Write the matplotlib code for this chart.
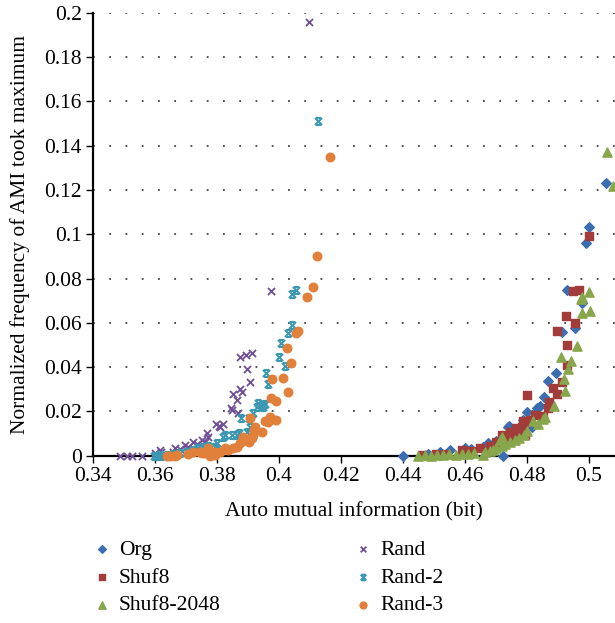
import numpy as np
import matplotlib
matplotlib.use("Agg")
import matplotlib.pyplot as plt
from matplotlib.path import Path

plt.rcParams['font.family'] = ['Liberation Serif', 'DejaVu Serif']

# AMI value at which the frequency peaks, per sequence type
org_x = [0.4401, 0.4480, 0.4520, 0.4552, 0.4600, 0.4620, 0.4659, 0.4668, 0.4675, 0.4700,
         0.4724, 0.4732, 0.4740, 0.4743, 0.4760, 0.4780, 0.4788, 0.4801, 0.4815, 0.4833,
         0.4843, 0.4856, 0.4869, 0.4893, 0.4914, 0.4930, 0.4955, 0.4979, 0.4989, 0.5000, 0.5055]
org_y = [0.0000, 0.0008, 0.0015, 0.0026, 0.0033, 0.0030, 0.0041, 0.0038, 0.0056, 0.0065,
         0.0000, 0.0074, 0.0131, 0.0135, 0.0100, 0.0120, 0.0161, 0.0199, 0.0128, 0.0214,
         0.0225, 0.0264, 0.0337, 0.0375, 0.0560, 0.0748, 0.0575, 0.0688, 0.0962, 0.1034, 0.1231]

shuf8_x = [0.4460, 0.4508, 0.4540, 0.4589, 0.4620, 0.4648, 0.4680, 0.4700, 0.4718, 0.4725,
           0.4735, 0.4745, 0.4756, 0.4760, 0.4766, 0.4777, 0.4783, 0.4786, 0.4794, 0.4799,
           0.4801, 0.4810, 0.4826, 0.4853, 0.4869, 0.4872, 0.4883, 0.4896, 0.4912, 0.4928,
           0.4928, 0.4896, 0.4926, 0.4955, 0.4949, 0.4968, 0.5000]
shuf8_y = [0.0003, 0.0006, 0.0010, 0.0026, 0.0020, 0.0033, 0.0045, 0.0060, 0.0093, 0.0060,
           0.0075, 0.0108, 0.0108, 0.0085, 0.0124, 0.0101, 0.0131, 0.0157, 0.0093, 0.0153,
           0.0273, 0.0161, 0.0184, 0.0179, 0.0214, 0.0244, 0.0304, 0.0277, 0.0334, 0.0408,
           0.0500, 0.0564, 0.0632, 0.0600, 0.0745, 0.0748, 0.0992]

shuf2048_x = [0.4450, 0.4470, 0.4490, 0.4510, 0.4530, 0.4550, 0.4570, 0.4590, 0.4610, 0.4630,
              0.4659, 0.4665, 0.4680, 0.4690, 0.4700, 0.4713, 0.4718, 0.4720, 0.4730, 0.4745,
              0.4760, 0.4775, 0.4790, 0.4800, 0.4820, 0.4836, 0.4853, 0.4858, 0.4888, 0.4924,
              0.4920, 0.4933, 0.4909, 0.4941, 0.4960, 0.4976, 0.5003, 0.4974, 0.4976, 0.5001,
              0.5059, 0.5078]
shuf2048_y = [0.0000, 0.0003, 0.0000, 0.0003, 0.0005, 0.0008, 0.0005, 0.0010, 0.0008, 0.0012,
              0.0003, 0.0015, 0.0020, 0.0028, 0.0035, 0.0071, 0.0086, 0.0045, 0.0052, 0.0060,
              0.0070, 0.0078, 0.0095, 0.0110, 0.0158, 0.0142, 0.0164, 0.0173, 0.0226, 0.0293,
              0.0348, 0.0390, 0.0444, 0.0429, 0.0495, 0.0643, 0.0655, 0.0707, 0.0715, 0.0738,
              0.1370, 0.1219]

rand_x = [0.3487, 0.3509, 0.3525, 0.3557, 0.3600, 0.3616, 0.3621, 0.3659, 0.3665, 0.3680,
          0.3697, 0.3702, 0.3707, 0.3723, 0.3734, 0.3751, 0.3761, 0.3767, 0.3772, 0.3797,
          0.3807, 0.3810, 0.3818, 0.3844, 0.3847, 0.3851, 0.3866, 0.3867, 0.3874, 0.3874,
          0.3880, 0.3894, 0.3898, 0.3906, 0.3914, 0.3973, 0.4097]
rand_y = [0.0000, 0.0000, 0.0000, 0.0000, 0.0011, 0.0026, 0.0018, 0.0018, 0.0033, 0.0030,
          0.0048, 0.0026, 0.0041, 0.0060, 0.0053, 0.0071, 0.0063, 0.0101, 0.0086, 0.0143,
          0.0135, 0.0131, 0.0143, 0.0217, 0.0206, 0.0280, 0.0251, 0.0191, 0.0301, 0.0444,
          0.0289, 0.0455, 0.0390, 0.0334, 0.0462, 0.0745, 0.1960]

rand2_x = [0.3597, 0.3605, 0.3616, 0.3621, 0.3638, 0.3659, 0.3680, 0.3702, 0.3724, 0.3740,
           0.3756, 0.3772, 0.3794, 0.3799, 0.3820, 0.3826, 0.3847, 0.3864, 0.3872, 0.3877,
           0.3896, 0.3904, 0.3906, 0.3917, 0.3928, 0.3933, 0.3944, 0.3950, 0.3955, 0.3958,
           0.3966, 0.4001, 0.4005, 0.4019, 0.4030, 0.4041, 0.4041, 0.4055, 0.4127]
rand2_y = [0.0000, 0.0000, 0.0003, 0.0000, 0.0003, 0.0008, 0.0011, 0.0018, 0.0026, 0.0033,
           0.0041, 0.0045, 0.0041, 0.0056, 0.0086, 0.0093, 0.0093, 0.0093, 0.0101, 0.0169,
           0.0108, 0.0172, 0.0131, 0.0191, 0.0221, 0.0237, 0.0229, 0.0219, 0.0233, 0.0372,
           0.0322, 0.0447, 0.0510, 0.0406, 0.0553, 0.0590, 0.0730, 0.0748, 0.1512]

rand3_x = [0.3638, 0.3648, 0.3665, 0.3670, 0.3707, 0.3723, 0.3745, 0.3751, 0.3761, 0.3772,
           0.3777, 0.3777, 0.3794, 0.3794, 0.3810, 0.3826, 0.3837, 0.3853, 0.3864, 0.3874,
           0.3885, 0.3890, 0.3904, 0.3906, 0.3912, 0.3917, 0.3919, 0.3923, 0.3946, 0.3955,
           0.3966, 0.3971, 0.3974, 0.3976, 0.3989, 0.3990, 0.4014, 0.4025, 0.4028, 0.4038,
           0.4056, 0.4062, 0.4091, 0.4111, 0.4122, 0.4165]
rand3_y = [0.0000, 0.0000, 0.0000, 0.0003, 0.0008, 0.0018, 0.0018, 0.0011, 0.0011, 0.0033,
           0.0018, 0.0000, 0.0018, 0.0003, 0.0018, 0.0033, 0.0026, 0.0033, 0.0041, 0.0056,
           0.0086, 0.0071, 0.0063, 0.0169, 0.0079, 0.0093, 0.0116, 0.0131, 0.0106, 0.0158,
           0.0154, 0.0176, 0.0259, 0.0345, 0.0161, 0.0247, 0.0349, 0.0488, 0.0289, 0.0420,
           0.0555, 0.0564, 0.0715, 0.0763, 0.0903, 0.1349]

x_ticks = [0.34, 0.36, 0.38, 0.40, 0.42, 0.44, 0.46, 0.48, 0.50]
x_labels = ["0.34", "0.36", "0.38", "0.4", "0.42", "0.44", "0.46", "0.48", "0.5"]
y_ticks = [0.0, 0.02, 0.04, 0.06, 0.08, 0.10, 0.12, 0.14, 0.16, 0.18, 0.20]
y_labels = ["0", "0.02", "0.04", "0.06", "0.08", "0.1", "0.12", "0.14", "0.16", "0.18", "0.2"]

# hourglass-like star marker: an X with bars on top and bottom
star = Path([(-1, -1), (1, 1), (-1, 1), (1, -1), (-0.7, 1), (0.7, 1), (-0.7, -1), (0.7, -1)],
            [Path.MOVETO, Path.LINETO, Path.MOVETO, Path.LINETO,
             Path.MOVETO, Path.LINETO, Path.MOVETO, Path.LINETO])

series = [
    ("Org", org_x, org_y, dict(marker="D", color="#3b6eb0", s=24)),
    ("Shuf8", shuf8_x, shuf8_y, dict(marker="s", color="#a23c3b", s=38)),
    ("Shuf8-2048", shuf2048_x, shuf2048_y, dict(marker="^", color="#88a64b", s=44)),
    ("Rand", rand_x, rand_y, dict(marker="x", color="#6e4f98", s=26, linewidths=1.3)),
    ("Rand-2", rand2_x, rand2_y, dict(marker=star, color="#3c98b2", s=26, linewidths=1.5)),
    ("Rand-3", rand3_x, rand3_y, dict(marker="o", color="#e0803a", s=38)),
]

fs = 15.5

fig = plt.figure(figsize=(6.15, 6.23), dpi=100)
ax = fig.add_axes([0.1512, 0.2685, 0.8488, 0.7111])

handles = []
for name, xs, ys, style in series:
    h = ax.scatter(xs, ys, label=name, clip_on=False, zorder=3, **style)
    handles.append(h)

ax.set_xlim(0.34, 0.5084)
ax.set_ylim(0, 0.2)
ax.set_xticks(x_ticks)
ax.set_xticklabels(x_labels)
ax.set_yticks(y_ticks)
ax.set_yticklabels(y_labels)
ax.tick_params(axis="both", direction="out", length=5, width=1, labelsize=fs, colors="black")
ax.tick_params(axis="x", pad=3)
ax.tick_params(axis="y", pad=3)

for side in ("top", "right"):
    ax.spines[side].set_visible(False)
for side in ("left", "bottom"):
    ax.spines[side].set_linewidth(1.6)

ax.yaxis.grid(True, linestyle=(0, (1, 8)), color="#444444", linewidth=1.3)
ax.set_axisbelow(True)

ax.set_xlabel("Auto mutual information (bit)", fontsize=fs, labelpad=12)
ax.set_ylabel("Normalized frequency of AMI took maximum", fontsize=fs, labelpad=10)

leg = fig.legend(handles=handles, labels=[s[0] for s in series],
                 ncol=2, loc="upper left", bbox_to_anchor=(0.1236, 0.1576),
                 frameon=False, fontsize=fs, handletextpad=0.3, columnspacing=6.1,
                 labelspacing=0.35, markerscale=0.8, handlelength=1.0,
                 borderpad=0.2)

fig.savefig("out.png", dpi=100)
